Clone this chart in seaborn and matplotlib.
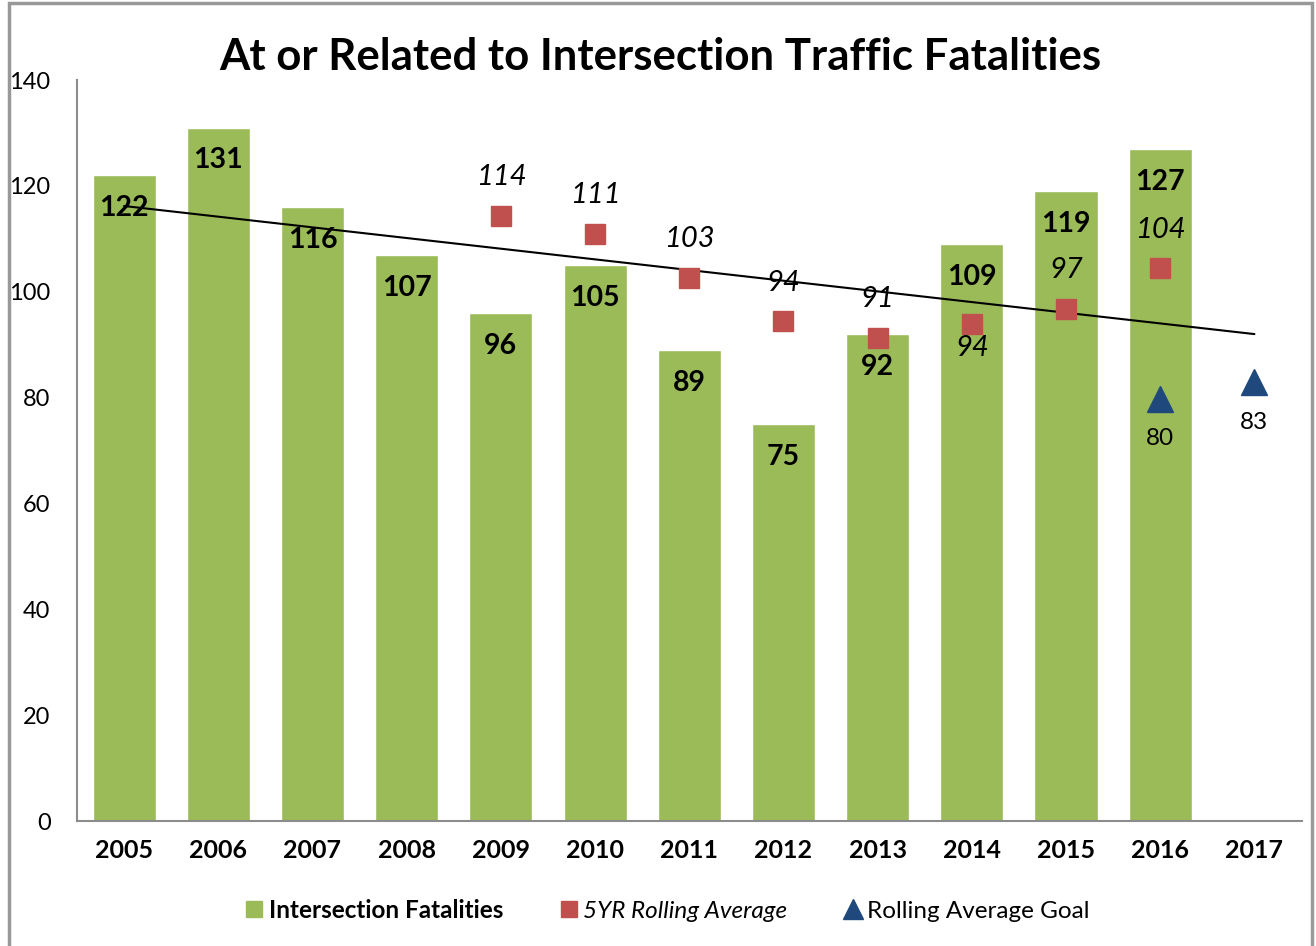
import matplotlib
matplotlib.use("Agg")
import matplotlib.pyplot as plt
import seaborn as sns
import numpy as np
import pandas as pd
from matplotlib.lines import Line2D
from matplotlib.patches import Rectangle

years = ["2005", "2006", "2007", "2008", "2009", "2010", "2011", "2012", "2013", "2014", "2015", "2016", "2017"]
fatalities = [122, 131, 116, 107, 96, 105, 89, 75, 92, 109, 119, 127, np.nan]
rolling_years = ["2009", "2010", "2011", "2012", "2013", "2014", "2015", "2016"]
rolling_avg = [114.4, 111.0, 102.6, 94.4, 91.3, 94.0, 96.8, 104.4]
rolling_labels = ["114", "111", "103", "94", "91", "94", "97", "104"]
goal_years = ["2016", "2017"]
goal_vals = [79.8, 82.9]
goal_labels = ["80", "83"]
trend_years = ["2005", "2017"]
trend_vals = [116.2, 92.0]

GREEN = "#9BBB59"
RED = "#C0504D"
BLUE = "#1F497D"
GRAY = "#8C8C8C"

sns.set_style("white")
plt.rcParams["font.family"] = ["Lato", "DejaVu Sans"]
plt.rcParams["text.color"] = "black"
plt.rcParams["xtick.color"] = "black"
plt.rcParams["ytick.color"] = "black"

fig = plt.figure(figsize=(13.16, 9.46), dpi=100)
ax = fig.add_axes([0.0585, 0.1321, 0.9305, 0.7833])

df = pd.DataFrame({"year": years, "value": fatalities})
sns.barplot(data=df, x="year", y="value", order=years, color=GREEN,
            saturation=1, width=0.67, ax=ax)

pos = {y: i for i, y in enumerate(years)}

# trend line
ax.plot([pos[y] for y in trend_years], trend_vals, color="black", lw=1.5, zorder=3)

# rolling average squares
rx = [pos[y] for y in rolling_years]
ax.plot(rx, rolling_avg, ls="none", marker="s", ms=14.5, color=RED, zorder=4)
# goal triangles
gx = [pos[y] for y in goal_years]
ax.plot(gx, goal_vals, ls="none", marker="^", ms=19, color=BLUE, zorder=4)

# bar labels
for i, v in enumerate(fatalities):
    if not np.isnan(v):
        ax.text(i, v - 6.2, f"{int(v)}", ha="center", va="center",
                fontsize=20.5, fontweight="bold", color="black", zorder=5)

# rolling labels
for y, v, lab in zip(rolling_years, rolling_avg, rolling_labels):
    if y == "2014":
        ax.text(pos[y], v - 4.7, lab, ha="center", va="center", fontsize=21,
                style="italic", color="black", zorder=5)
    else:
        ax.text(pos[y], v + 7.3, lab, ha="center", va="center", fontsize=21,
                style="italic", color="black", zorder=5)

# goal labels
for y, v, lab in zip(goal_years, goal_vals, goal_labels):
    ax.text(pos[y], v - 7.6, lab, ha="center", va="center", fontsize=17.5,
            color="black", zorder=5)

ax.set_xlim(-0.5, len(years) - 0.5)
ax.set_ylim(0, 140)
ax.set_yticks(range(0, 141, 20))
ax.set_xlabel("")
ax.set_ylabel("")

ax.set_xticks(np.arange(len(years)))
ax.set_xticklabels(years, fontsize=18, fontweight="bold")
ax.set_xticks(np.arange(-0.5, len(years), 1.0), minor=True)
ax.tick_params(axis="x", which="major", length=0, pad=13)
ax.tick_params(axis="x", which="minor", length=7, width=1.5, color=GRAY, direction="out")
ax.tick_params(axis="y", which="major", length=7, width=1.5, color=GRAY, direction="out",
               labelsize=17, pad=12)

for s in ["top", "right"]:
    ax.spines[s].set_visible(False)
for s in ["left", "bottom"]:
    ax.spines[s].set_color(GRAY)
    ax.spines[s].set_linewidth(1.5)

fig.text(0.502, 0.940, "At or Related to Intersection Traffic Fatalities", ha="center",
         va="center", fontsize=31.5, fontweight="bold", color="black")

handles = [
    Line2D([], [], ls="none", marker="s", ms=12, color=GREEN),
    Line2D([], [], ls="none", marker="s", ms=12, color=RED),
    Line2D([], [], ls="none", marker="^", ms=14, color=BLUE),
]
leg = fig.legend(handles, ["Intersection Fatalities", "5YR Rolling Average", "Rolling Average Goal"],
                 loc="center", bbox_to_anchor=(0.506, 0.038), ncol=3, frameon=False,
                 fontsize=17.5, handletextpad=0.1, columnspacing=2.2, handlelength=1.0)
texts = leg.get_texts()
texts[0].set_fontweight("bold")
texts[1].set_style("italic")
for t in texts:
    t.set_color("black")

fig.patches.append(Rectangle((0.0065, -0.01), 0.9905, 1.007, transform=fig.transFigure,
                             fill=False, edgecolor="#999999", lw=2.5))

fig.savefig("out.png", dpi=100)
